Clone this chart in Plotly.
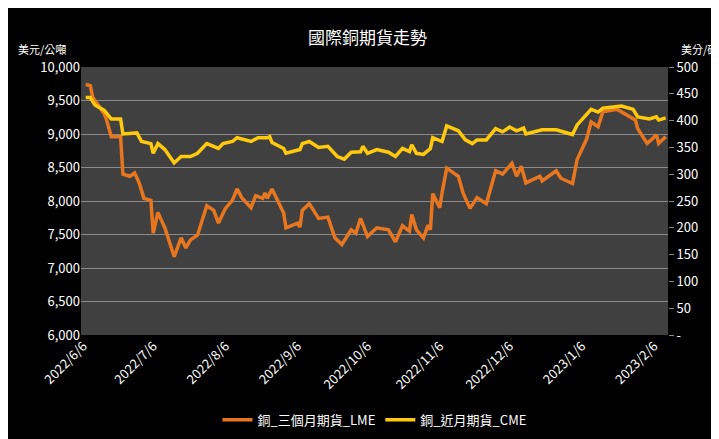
import plotly.graph_objects as go
import pandas as pd

start = pd.Timestamp("2022-06-06")
lme_days = [1,3,4,9,10,12,16,17,20,22,24,26,29,30,32,35,39,42,44,46,49,53,56,58,61,64,66,68,72,74,77,78,79,81,86,87,92,93,94,97,101,105,108,111,115,117,119,122,126,131,134,137,140,141,143,146,148,149,150,153,154,156,161,163,166,169,173,177,180,184,186,188,190,196,197,203,205,210,212,216,218,221,223,229,231,237,238,242,244,246,247,250]
lme_vals = [9740,9720,9550,9300,9210,8960,8960,8400,8370,8420,8270,8040,8010,7520,7830,7600,7170,7450,7300,7420,7490,7930,7860,7670,7890,8010,8180,8050,7900,8080,8040,8120,8040,8180,7820,7600,7670,7610,7860,7960,7740,7760,7450,7350,7570,7520,7740,7470,7600,7570,7390,7630,7550,7800,7570,7450,7640,7570,8110,7900,8120,8490,8370,8120,7890,8050,7960,8450,8400,8560,8370,8520,8270,8370,8300,8450,8340,8260,8620,8920,9180,9110,9330,9370,9330,9210,9080,8860,8920,8990,8860,8960]
cme_days = [1,3,5,9,12,16,17,23,25,29,30,32,35,39,42,46,49,53,58,60,64,66,72,75,79,80,81,86,87,93,94,97,101,105,109,112,115,119,120,122,126,128,131,134,137,140,141,143,146,149,150,154,156,161,164,167,169,173,177,180,183,186,189,190,197,203,210,212,218,221,223,231,236,238,243,246,247,250]
cme_vals = [443,443,429,419,403,403,375,377,361,357,339,357,346,321,333,333,339,357,348,357,361,368,361,368,368,370,359,348,339,346,357,361,350,352,333,328,341,342,352,339,346,344,341,333,348,342,355,339,337,348,368,361,390,381,364,357,364,364,385,379,388,381,386,375,383,383,374,392,421,416,423,427,421,407,403,407,401,405]

lme_dates = [start + pd.Timedelta(days=d) for d in lme_days]
cme_dates = [start + pd.Timedelta(days=d) for d in cme_days]
left_ticks = list(range(6000, 10001, 500))
right_ticks = list(range(0, 501, 50))
right_text = ["-"] + [str(v) for v in right_ticks[1:]]

fig = go.Figure()
fig.add_trace(go.Scatter(x=lme_dates, y=lme_vals, name="銅_三個月期貨_LME", mode="lines",
                         line=dict(color="#E8761E", width=3.5)))
fig.add_trace(go.Scatter(x=cme_dates, y=cme_vals, name="銅_近月期貨_CME", mode="lines", yaxis="y2",
                         line=dict(color="#FFC90E", width=3.5)))
font = dict(family="Noto Sans CJK TC, Noto Sans, sans-serif", color="white", size=13)
fig.update_layout(
    width=719, height=439, paper_bgcolor="black", plot_bgcolor="#404040", font=font,
    margin=dict(l=73, r=59, t=59, b=107),
    title=dict(text="國際銅期貨走勢", x=0.5, y=0.945, xanchor="center", font=dict(size=17, color="white")),
    xaxis=dict(range=[start - pd.Timedelta(days=1), start + pd.Timedelta(days=251)], tick0="2022-06-06", dtick="M1",
               tickformat="%Y/%-m/%-d", tickangle=-45, showgrid=False, ticks="", showline=False, zeroline=False,
               automargin=False),
    yaxis=dict(range=[6000, 10000], tickvals=left_ticks, tickformat=",", gridcolor="#8a8a8a", zeroline=False,
               automargin=False),
    yaxis2=dict(range=[0, 500], tickvals=right_ticks, ticktext=right_text, overlaying="y", side="right",
                showgrid=False, zeroline=False, ticks="outside", ticklen=5, tickcolor="#888", automargin=False),
    legend=dict(orientation="h", x=0.5, xanchor="center", y=-0.26, yanchor="top", font=dict(size=13)),
    annotations=[dict(text="美元/公噸", xref="paper", yref="paper", x=-0.111, y=1.106, showarrow=False, xanchor="left", font=dict(size=11, color="white")),
                 dict(text="美分/磅", xref="paper", yref="paper", x=1.088, y=1.106, showarrow=False, xanchor="right", font=dict(size=11, color="white"))],
)
fig.write_html("out.html")
